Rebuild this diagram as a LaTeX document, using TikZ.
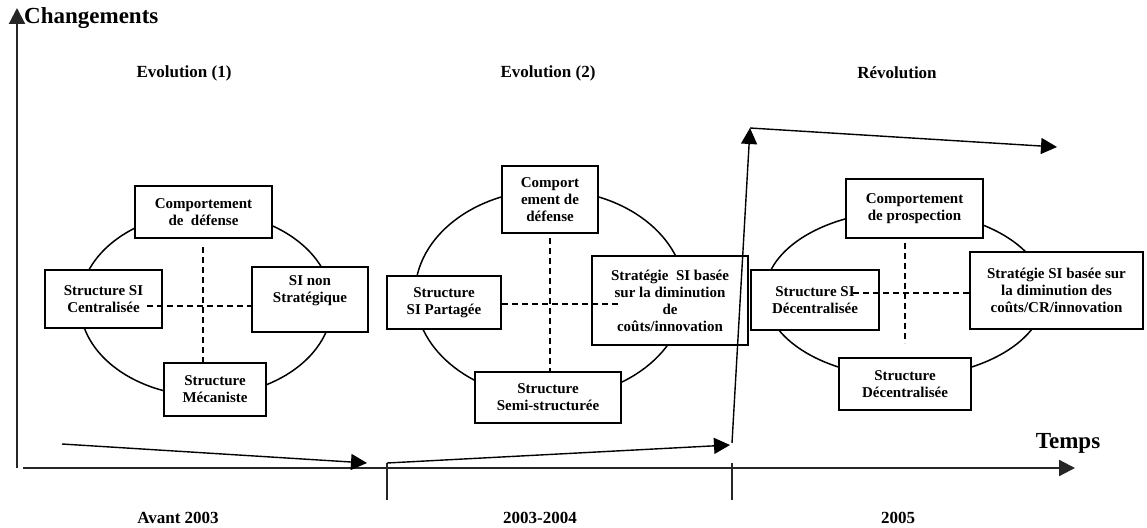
\documentclass[tikz,border=0pt]{standalone}
\usepackage{fontspec}
\setmainfont{Liberation Serif}
\usetikzlibrary{arrows.meta}
\begin{document}
\begin{tikzpicture}[x=1pt,y=-1pt,
  box/.style={draw=black, fill=white, line width=1.4pt, align=center, inner sep=0pt,
    font=\bfseries\fontsize{15}{17}\selectfont},
  oval/.style={draw=black, line width=1.5pt},
  dline/.style={line width=1.6pt, dash pattern=on 6pt off 4pt},
  axisline/.style={line width=2.2pt, draw=black!85, -{Triangle[length=16pt,width=16pt]}},
  arr/.style={line width=1.4pt, -{Triangle[length=16pt,width=16pt]}},
  tick/.style={line width=2pt, draw=black!85},
  hdr/.style={font=\bfseries\fontsize{17}{20}\selectfont, inner sep=0pt},
]
\useasboundingbox (0,0) rectangle (1147,527);

% ---------- ellipses ----------
\draw[oval] (206,304) ellipse [x radius=126pt, y radius=92pt];
\draw[oval] (550,294) ellipse [x radius=135pt, y radius=104pt];
\draw[oval] (905,294) ellipse [x radius=140pt, y radius=83pt];

% ---------- cluster 1 ----------
\node[box, minimum width=137pt, minimum height=52pt] (t1) at (203.5,212) {Comportement\\de\ \ défense};
\node[box, minimum width=117pt, minimum height=58pt] (l1) at (103.5,299) {Structure SI\\Centralisée};
\node[box, minimum width=116pt, minimum height=65pt] (r1) at (310,299.5) {SI non\\Stratégique\\[4pt]};
\node[box, minimum width=102pt, minimum height=53pt] (b1) at (215,389.5) {Structure\\Mécaniste};

% ---------- cluster 2 ----------
\node[box, minimum width=96pt, minimum height=67pt] (t2) at (550,199.5) {Comport\\ement de\\défense};
\node[box, minimum width=114pt, minimum height=53pt] (l2) at (444,302.5) {Structure\\SI Partagée};
\node[box, minimum width=156pt, minimum height=89pt] (r2) at (670,300.5) {Stratégie\ \ SI basée\\sur la diminution\\de\\coûts/innovation};
\node[box, minimum width=146pt, minimum height=51pt] (b2) at (548,397.5) {Structure\\Semi-structurée};

% ---------- cluster 3 ----------
\node[box, minimum width=137pt, minimum height=59pt] (t3) at (914.5,208.5) {Comportement\\de prospection};
\node[box, minimum width=128pt, minimum height=60pt] (l3) at (815,300) {Structure SI\\Décentralisée};
\node[box, minimum width=173pt, minimum height=77pt] (r3) at (1056.5,290.5) {Stratégie SI basée sur\\la diminution des\\coûts/CR/innovation};
\node[box, minimum width=132pt, minimum height=52pt] (b3) at (905,384) {Structure\\Décentralisée};

% ---------- dashed cross lines ----------
\coordinate (c1n) at (203,247); \coordinate (c1s) at (203,362);
\coordinate (c1w) at (147,306); \coordinate (c1e) at (251,306);
\draw[dline] (c1n) -- (c1s);
\draw[dline] (c1w) -- (c1e);
\coordinate (c2n) at (550,238); \coordinate (c2s) at (550,372);
\coordinate (c2w) at (502,304); \coordinate (c2e) at (618,304);
\draw[dline] (c2n) -- (c2s);
\draw[dline] (c2w) -- (c2e);
\coordinate (c3n) at (905,243); \coordinate (c3s) at (905,343);
\coordinate (c3w) at (853,293); \coordinate (c3e) at (970,293);
\draw[dline] (c3n) -- (c3s);
\draw[dline] (c3w) -- (c3e);

% ---------- axes ----------
\coordinate (ybot) at (17,468); \coordinate (ytop) at (17,8);
\coordinate (xl) at (23,468); \coordinate (xr) at (1075,468);
\draw[axisline] (ybot) -- (ytop);
\draw[axisline] (xl) -- (xr);
\coordinate (k1a) at (387,463); \coordinate (k1b) at (387,500);
\coordinate (k2a) at (732,463); \coordinate (k2b) at (732,500);
\draw[tick] (k1a) -- (k1b);
\draw[tick] (k2a) -- (k2b);

% ---------- trend arrows ----------
\coordinate (p0) at (62,444);
\coordinate (p1) at (367,463);
\coordinate (p2) at (730,445);
\coordinate (p3) at (732,443);
\coordinate (p4) at (750,128);
\coordinate (p5) at (1057,147);
\draw[arr] (p0) -- (p1);
\draw[arr] (k1a) -- (p2);
\draw[arr] (p3) -- (p4);
\draw[arr] (p4) -- (p5);

% ---------- labels ----------
\node[anchor=west, inner sep=0pt, font=\bfseries\fontsize{23}{26}\selectfont] (chg) at (24,18) {Changements};
\node[hdr] (h1) at (184,73) {Evolution (1)};
\node[hdr] (h2) at (548,73) {Evolution (2)};
\node[hdr] (h3) at (897,73) {Révolution};
\node[inner sep=0pt, font=\bfseries\fontsize{23}{26}\selectfont] (tps) at (1068,443) {Temps};
\node[hdr] (d1) at (178,518) {Avant 2003};
\node[hdr] (d2) at (540,518) {2003-2004};
\node[hdr] (d3) at (898,518) {2005};
\end{tikzpicture}
\end{document}
